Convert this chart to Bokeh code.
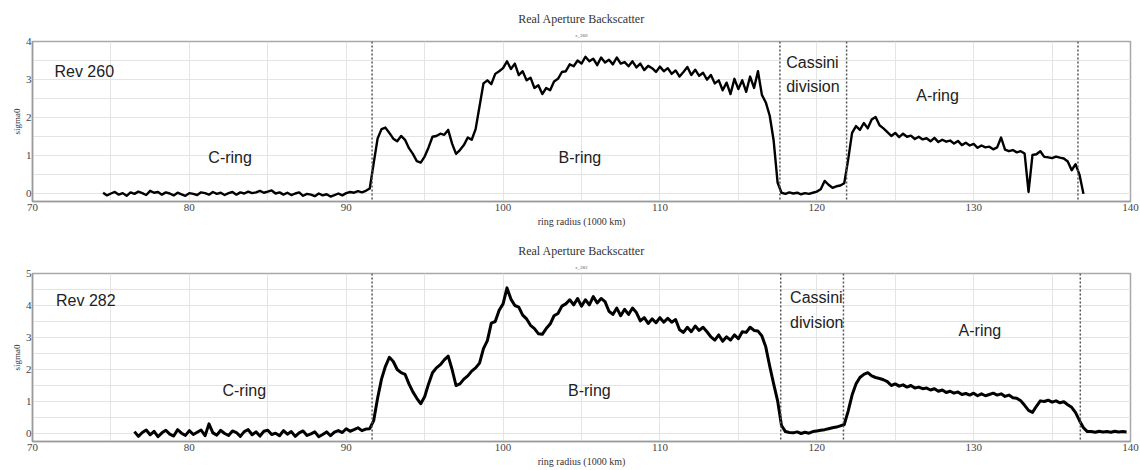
import numpy as np
from bokeh.plotting import figure
from bokeh.layouts import column
from bokeh.models import Span, Label, Title, FixedTicker, Range1d, ColumnDataSource
from bokeh.embed import file_html
from bokeh.resources import INLINE

# Radial sampling interval of the profiles (1000 km)
STEP = 0.25

# Rev 260 real-aperture backscatter (sigma0), one row = 2 (1000 km)
REV260_START = 74.5
REV260_SIGMA0 = [
    0.03, -0.04, 0.01, 0.05, -0.02, 0.02, -0.05, 0.04,    # 74.5
    0.00, 0.06, 0.02, -0.03, 0.08, 0.03, 0.05, -0.02,     # 76.5
    0.04, 0.01, -0.04, 0.03, -0.01, -0.05, 0.02, 0.00,    # 78.5
    -0.03, 0.04, 0.02, -0.02, 0.05, 0.00, 0.03, -0.03,    # 80.5
    0.02, 0.05, -0.02, 0.04, 0.01, 0.06, 0.02, 0.04,      # 82.5
    0.08, 0.03, 0.06, 0.09, 0.01, 0.04, -0.02, 0.03,      # 84.5
    -0.03, 0.01, 0.04, -0.05, 0.00, -0.02, -0.06, 0.01,   # 86.5
    -0.04, -0.01, -0.07, -0.03, 0.01, -0.04, 0.02, 0.05,  # 88.5
    0.03, 0.07, 0.04, 0.08, 0.14, 0.80, 1.45, 1.70,       # 90.5
    1.74, 1.60, 1.45, 1.38, 1.52, 1.42, 1.20, 1.05,       # 92.5
    0.86, 0.82, 0.98, 1.22, 1.50, 1.52, 1.58, 1.55,       # 94.5
    1.68, 1.32, 1.05, 1.15, 1.28, 1.48, 1.42, 1.70,       # 96.5
    2.30, 2.90, 2.98, 2.88, 3.15, 3.22, 3.30, 3.48,       # 98.5
    3.28, 3.42, 3.12, 3.22, 2.98, 3.05, 2.78, 2.85,       # 100.5
    2.62, 2.78, 2.72, 2.95, 3.02, 3.20, 3.22, 3.40,       # 102.5
    3.35, 3.50, 3.42, 3.60, 3.48, 3.55, 3.38, 3.58,       # 104.5
    3.45, 3.52, 3.40, 3.58, 3.42, 3.46, 3.35, 3.48,       # 106.5
    3.32, 3.42, 3.25, 3.36, 3.30, 3.20, 3.34, 3.22,       # 108.5
    3.30, 3.15, 3.24, 3.08, 3.20, 3.33, 3.12, 3.26,       # 110.5
    3.10, 3.18, 3.00, 3.12, 2.90, 2.98, 2.72, 2.92,       # 112.5
    2.62, 3.02, 2.75, 2.98, 2.68, 3.08, 2.78, 3.22,       # 114.5
    2.60, 2.40, 2.05, 1.40, 0.30, 0.03, 0.00, 0.04,       # 116.5
    0.01, 0.03, -0.01, 0.02, 0.00, 0.03, 0.06, 0.12,      # 118.5
    0.34, 0.24, 0.16, 0.20, 0.22, 0.28, 0.90, 1.60,       # 120.5
    1.78, 1.68, 1.86, 1.72, 1.95, 2.02, 1.80, 1.72,       # 122.5
    1.62, 1.52, 1.60, 1.49, 1.58, 1.50, 1.53, 1.44,       # 124.5
    1.50, 1.43, 1.46, 1.38, 1.47, 1.36, 1.42, 1.37,       # 126.5
    1.40, 1.32, 1.39, 1.28, 1.34, 1.27, 1.31, 1.21,       # 128.5
    1.27, 1.22, 1.24, 1.17, 1.22, 1.48, 1.16, 1.12,       # 130.5
    1.15, 1.09, 1.12, 1.06, 0.05, 1.02, 1.04, 1.12,       # 132.5
    0.97, 0.96, 0.94, 0.98, 0.95, 0.93, 0.85, 0.62,       # 134.5
    0.78, 0.50, 0.00,                                     # 136.5
]

# Rev 282 real-aperture backscatter (sigma0), one row = 2 (1000 km)
REV282_START = 76.5
REV282_SIGMA0 = [
    0.06, -0.09, 0.03, 0.11, -0.04, 0.07, -0.10, 0.02,    # 76.5
    0.10, -0.02, -0.08, 0.12, 0.01, -0.06, 0.09, -0.03,   # 78.5
    0.04, 0.11, -0.07, 0.30, 0.02, -0.05, 0.10, 0.00,     # 80.5
    -0.06, 0.08, 0.03, -0.09, 0.06, 0.12, -0.04, 0.05,    # 82.5
    -0.08, 0.07, 0.10, -0.03, 0.01, -0.07, 0.09, -0.02,   # 84.5
    0.06, -0.09, 0.02, 0.08, -0.06, -0.01, 0.05, -0.10,   # 86.5
    -0.03, 0.05, -0.07, 0.04, 0.09, 0.03, 0.15, 0.07,     # 88.5
    0.12, 0.18, 0.09, 0.14, 0.15, 0.40, 1.10, 1.70,       # 90.5
    2.10, 2.38, 2.25, 2.00, 1.90, 1.85, 1.55, 1.30,       # 92.5
    1.10, 0.93, 1.15, 1.55, 1.90, 2.05, 2.15, 2.30,       # 94.5
    2.42, 2.00, 1.50, 1.55, 1.70, 1.80, 1.95, 2.05,       # 96.5
    2.20, 2.65, 2.90, 3.45, 3.50, 3.85, 4.05, 4.55,       # 98.5
    4.20, 4.00, 3.95, 3.70, 3.58, 3.38, 3.28, 3.12,       # 100.5
    3.10, 3.28, 3.42, 3.68, 3.75, 3.98, 4.05, 4.18,       # 102.5
    4.02, 4.22, 3.98, 4.18, 4.02, 4.28, 4.08, 4.22,       # 104.5
    4.12, 3.82, 3.72, 3.92, 3.68, 3.88, 3.72, 3.92,       # 106.5
    3.78, 3.52, 3.62, 3.44, 3.58, 3.46, 3.62, 3.48,       # 108.5
    3.60, 3.48, 3.56, 3.24, 3.16, 3.32, 3.18, 3.36,       # 110.5
    3.22, 3.32, 3.18, 3.02, 2.92, 3.08, 2.88, 3.02,       # 112.5
    2.92, 3.08, 2.96, 3.18, 3.16, 3.32, 3.22, 3.20,       # 114.5
    3.05, 2.70, 2.10, 1.55, 1.03, 0.25, 0.06, 0.03,       # 116.5
    0.02, 0.05, 0.00, 0.04, 0.01, 0.06, 0.08, 0.10,       # 118.5
    0.12, 0.15, 0.18, 0.20, 0.24, 0.28, 0.70, 1.20,       # 120.5
    1.55, 1.75, 1.85, 1.90, 1.80, 1.75, 1.72, 1.68,       # 122.5
    1.62, 1.50, 1.55, 1.48, 1.52, 1.45, 1.50, 1.42,       # 124.5
    1.45, 1.40, 1.42, 1.36, 1.40, 1.32, 1.36, 1.28,       # 126.5
    1.32, 1.26, 1.30, 1.22, 1.25, 1.20, 1.26, 1.18,       # 128.5
    1.24, 1.18, 1.22, 1.26, 1.20, 1.24, 1.16, 1.20,       # 130.5
    1.12, 1.10, 1.02, 0.88, 0.72, 0.66, 0.85, 1.02,       # 132.5
    1.00, 1.04, 0.98, 1.02, 0.96, 0.99, 0.90, 0.82,       # 134.5
    0.65, 0.40, 0.18, 0.06, 0.06, 0.04, 0.07, 0.05,       # 136.5
    0.06, 0.04, 0.07, 0.05, 0.06, 0.05,                   # 138.5
]

# Ring boundaries (C/B, B/Cassini, Cassini/A, outer A edge), 1000 km
BOUNDARIES_260 = [91.65, 117.65, 121.9, 136.65]
BOUNDARIES_282 = [91.65, 117.7, 121.7, 136.8]

X_TICKS = [70, 80, 90, 100, 110, 120, 130, 140]
X_GRID = [70, 75, 80, 85, 90, 95, 100, 105, 110, 115, 120, 125, 130, 135, 140]

SERIF = "Liberation Serif"
SANS = "Liberation Sans"


def make_panel(start, sigma0, boundaries, y_top, y_bottom, rev, code,
               height, border, regions, line_width):
    radius = start + STEP * np.arange(len(sigma0))
    src = ColumnDataSource(dict(radius=radius, sigma0=sigma0))

    p = figure(width=1140, height=height, title=None,
               x_range=Range1d(70, 140), y_range=Range1d(y_bottom, y_top),
               output_backend="svg", toolbar_location=None,
               min_border_left=border[0], min_border_right=border[1],
               min_border_top=border[2], min_border_bottom=border[3])
    p.background_fill_color = "white"
    p.border_fill_color = "white"
    p.outline_line_color = "#a8a8a8"
    p.outline_line_width = 1.5

    # two-line header: title with the data-set code underneath
    p.add_layout(Title(text=code, align="center", text_font=SERIF,
                       text_font_size="5px", text_font_style="normal",
                       text_color="#555555", standoff=7), "above")
    p.add_layout(Title(text="Real Aperture Backscatter", align="center",
                       text_font=SERIF, text_font_size="12px",
                       text_font_style="normal", text_color="#333333",
                       standoff=4), "above")

    yticks = list(range(0, int(y_top) + 1))
    ygrid = [v * 0.5 for v in range(0, int(y_top * 2) + 1)]

    p.xaxis.ticker = FixedTicker(ticks=X_TICKS)
    p.yaxis.ticker = FixedTicker(ticks=yticks)
    p.xgrid.ticker = FixedTicker(ticks=X_GRID)
    p.ygrid.ticker = FixedTicker(ticks=ygrid)
    p.xgrid.grid_line_color = "#e4e4e4"
    p.ygrid.grid_line_color = "#e4e4e4"

    for ax in (p.xaxis, p.yaxis):
        ax.axis_line_color = "#9a9a9a"
        ax.axis_line_width = 1.5
        ax.major_tick_line_color = None
        ax.minor_tick_line_color = None
        ax.major_tick_in = 0
        ax.major_tick_out = 0
        ax.minor_tick_in = 0
        ax.minor_tick_out = 0
        ax.major_label_text_font = SERIF
        ax.major_label_text_font_size = "11px"
        ax.major_label_text_color = "#444444"
        ax.axis_label_text_font = SERIF
        ax.axis_label_text_font_size = "10px"
        ax.axis_label_text_font_style = "normal"
        ax.axis_label_text_color = "#333333"
        ax.major_label_standoff = 2
        ax.axis_label_standoff = 2
    p.xaxis.axis_label = "ring radius (1000 km)"
    p.yaxis.axis_label = "sigma0"
    p.yaxis.axis_label_text_font_size = "9px"
    p.yaxis.major_label_standoff = 1
    p.yaxis.axis_label_standoff = 1

    for b in boundaries:
        p.add_layout(Span(location=b, dimension="height", line_color="#555555",
                          line_width=1.5, line_dash="2 2"))

    p.line("radius", "sigma0", source=src, line_color="black",
           line_width=line_width, line_join="round")

    p.add_layout(Label(x=rev[0], y=rev[1], text=rev[2], text_font=SANS,
                       text_font_size="16px", text_color="#222222",
                       text_align="left", text_baseline="middle"))
    for x, y, txt, align in regions:
        p.add_layout(Label(x=x, y=y, text=txt, text_font=SANS,
                           text_font_size="16px", text_color="#222222",
                           text_align=align, text_baseline="middle"))
    return p


top = make_panel(
    REV260_START, REV260_SIGMA0, BOUNDARIES_260, 4, -0.2,
    (71.4, 3.2, "Rev 260"), "c_260", 232, (32, 10, 41, 31),
    [(82.6, 0.95, "C-ring", "center"),
     (104.9, 0.95, "B-ring", "center"),
     (118.05, 3.44, "Cassini", "left"),
     (118.05, 2.81, "division", "left"),
     (127.7, 2.57, "A-ring", "center")],
    2.4)

bottom = make_panel(
    REV282_START, REV282_SIGMA0, BOUNDARIES_282, 5, -0.25,
    (71.5, 4.16, "Rev 282"), "c_282", 238, (27, 7, 41, 29),
    [(83.5, 1.34, "C-ring", "center"),
     (105.5, 1.34, "B-ring", "center"),
     (118.3, 4.25, "Cassini", "left"),
     (118.3, 3.47, "division", "left"),
     (130.4, 3.22, "A-ring", "center")],
    3.0)

layout = column(top, bottom, spacing=0)
open("out.html", "w").write(file_html(layout, INLINE))
